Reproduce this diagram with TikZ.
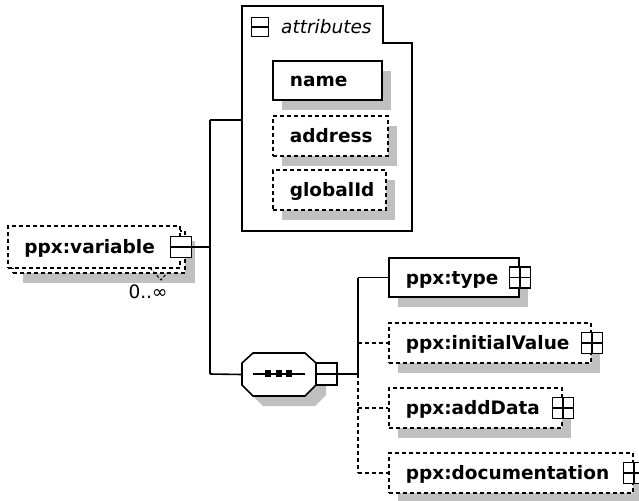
\documentclass[tikz,border=0pt]{standalone}
\usepackage{fontspec}
\setmainfont{DejaVu Sans}
\usetikzlibrary{fit}
\definecolor{shadowgray}{HTML}{C0C0C0}
\tikzset{
  box/.style={draw, fill=white, rectangle, inner sep=0pt, line width=1.6pt},
  optbox/.style={box, dash pattern=on 4pt off 3pt},
  shad/.style={fill=shadowgray, draw=none, rectangle, inner sep=0pt},
  pm/.style={draw, fill=white, rectangle, inner sep=0pt, minimum width=21pt, minimum height=21pt, line width=1.4pt},
  pmline/.style={line width=1.4pt},
  lbl/.style={anchor=base west, inner sep=0pt, font=\fontsize{18.5}{21}\selectfont\bfseries},
  conn/.style={line width=1.6pt},
  optconn/.style={conn, dash pattern=on 4pt off 3pt},
}
% #1 name, #2 style, #3 x1, #4 y1, #5 x2, #6 y2, #7 text
\newcommand{\xelem}[7]{%
  \node[shad, fit={(#3+9,#4+10) (#5+9,#6+10)}] (#1sh) {};
  \node[#2, fit={(#3,#4) (#5,#6)}] (#1) {};
  \node[lbl] (#1t) at ([xshift=17.5pt,yshift=-6.5pt]#1.west) {#7};
}
\newcommand{\plusbox}[1]{%
  \node[pm] (#1pm) at (#1.east) {};
  \draw[pmline] ([xshift=1pt]#1pm.west) -- ([xshift=-1pt]#1pm.east);
  \draw[pmline] ([yshift=-1pt]#1pm.north) -- ([yshift=1pt]#1pm.south);
}
\begin{document}
\begin{tikzpicture}[x=1pt,y=-1pt]
\useasboundingbox (0,0) rectangle (639,500);

% ---------- ppx:variable (multiple occurrence) ----------
\node[shad, fit={(23,241) (195,283)}] (varsh) {};
\node[optbox, fit={(13,231) (185,273)}] (varback) {};
\node[optbox, fit={(8,226) (180,268)}] (var) {};
\node[lbl] (vart) at ([xshift=17pt,yshift=-6pt]var.west) {ppx:variable};
\node[pm, minimum height=21pt] (varpm) at (var.east) {};
\draw[pmline] ([xshift=1pt]varpm.west) -- ([xshift=-1pt]varpm.east);
\draw[line width=1pt, dash pattern=on 3pt off 2pt] (150,268) -- (161,280) -- (167,273);
\node[font=\fontsize{18.5}{21}\selectfont] (varocc) at (148,292) {0..∞};

% ---------- attributes group ----------
\draw[conn, fill=white] (242,6) -- (383,6) -- (383,43) -- (412,43) -- (412,231) -- (242,231) -- cycle;
\coordinate (attrL) at (242,120);
\node[pm, minimum width=17pt, minimum height=19pt] (attrpm) at (260,27) {};
\draw[pmline] ([xshift=1pt]attrpm.west) -- ([xshift=-1pt]attrpm.east);
\node[anchor=base west, inner sep=0pt, font=\fontsize{18.5}{21}\selectfont\itshape] (attrt) at (281,34) {attributes};

\xelem{name}{box}{273}{61}{382}{100}{name}
\xelem{address}{optbox}{273}{116}{388}{156}{address}
\xelem{globalid}{optbox}{273}{170}{386}{210}{globalId}

% ---------- sequence compositor ----------
\node[inner sep=0pt, fit={(242,353) (316,396)}] (seq) {};
\fill[shadowgray] (252,373) -- (263,363) -- (315,363) -- (326,373) -- (326,395) -- (315,406) -- (263,406) -- (252,395) -- cycle;
\draw[conn, fill=white] (242,363) -- (253,353) -- (305,353) -- (316,363) -- (316,385) -- (305,396) -- (253,396) -- (242,385) -- cycle;
\draw[conn] (253,374) -- (305,374);
\fill (265,370) rectangle (271,377);
\fill (276,370) rectangle (282,377);
\fill (286,370) rectangle (292,377);
\node[pm, minimum height=22pt] (seqpm) at (326.5,374) {};
\draw[pmline] ([xshift=1pt]seqpm.west) -- ([xshift=-1pt]seqpm.east);

% ---------- children ----------
\xelem{type}{box}{389}{258}{519}{297}{ppx:type}
\plusbox{type}
\xelem{initval}{optbox}{389}{323}{591}{363}{ppx:initialValue}
\plusbox{initval}
\xelem{adddata}{optbox}{389}{388}{562}{428}{ppx:addData}
\plusbox{adddata}
\xelem{doc}{optbox}{389}{453}{633}{493}{ppx:documentation}
\plusbox{doc}

% ---------- connectors ----------
\coordinate (t1a) at (210,120);
\coordinate (t1b) at (210,374);
\draw[conn] (varpm.east) -- (varpm.east -| t1a);
\draw[conn] (t1a) -- (t1b);
\draw[conn] (t1a) -- (attrL);
\draw[conn] (t1b) -- (seq.west);

\coordinate (t2m) at (358,374);
\draw[conn] (seqpm.east) -- (t2m);
\draw[conn] (type.west -| t2m) -- (t2m);
\draw[optconn] (t2m) -- (doc.west -| t2m);
\draw[conn] (type.west -| t2m) -- (type.west);
\draw[optconn] (initval.west -| t2m) -- (initval.west);
\draw[optconn] (adddata.west -| t2m) -- (adddata.west);
\draw[optconn] (doc.west -| t2m) -- (doc.west);
\end{tikzpicture}
\end{document}
